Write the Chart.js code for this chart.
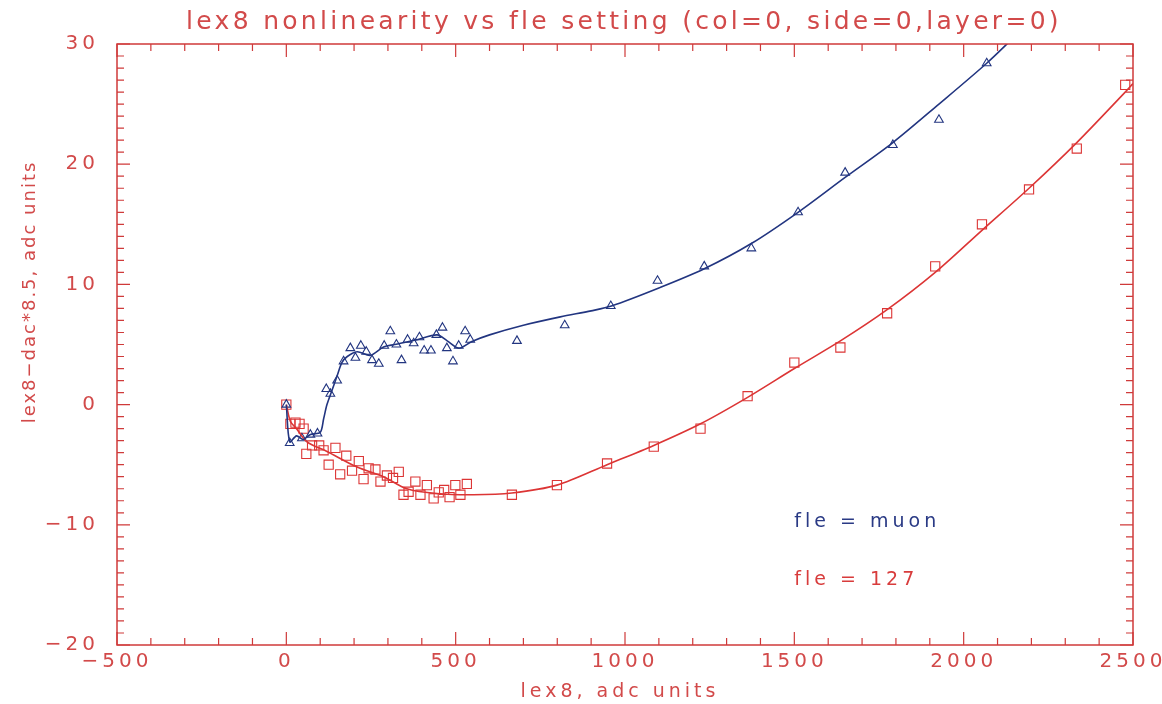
<!DOCTYPE html>
<html lang="en">
<head>
<meta charset="UTF-8">
<title>lex8 nonlinearity vs fle setting</title>
<script src="https://cdnjs.cloudflare.com/ajax/libs/Chart.js/4.4.1/chart.umd.min.js"></script>
<style>
    html, body { margin: 0; padding: 0; background: #fff; }
</style>
</head>
<body>
<canvas id="chart" width="1162" height="704"></canvas>
<script>
    // fle = muon (triangles)
    const muonX = [0, 10, 46, 71, 92, 118, 130, 150, 169, 189, 204, 220, 236, 253, 273, 289, 307, 325, 340,
        358, 376, 393, 407, 427, 443, 461, 474, 492, 509, 528, 543, 681, 822, 958, 1096, 1234, 1373, 1511,
        1650, 1791, 1927, 2068];
    const muonY = [0, -3.2, -2.8, -2.5, -2.4, 1.3, 0.9, 2.0, 3.6, 4.7, 3.9, 4.9, 4.4, 3.7, 3.4, 4.9, 6.1, 5.0, 3.7,
        5.4, 5.1, 5.6, 4.5, 4.5, 5.8, 6.4, 4.7, 3.6, 4.9, 6.1, 5.4, 5.3, 6.6, 8.2, 10.3, 11.5, 13.0, 16.0,
        19.3, 21.6, 23.7, 28.4];

    // fle = 127 (squares)
    const fleX = [0, 12, 27, 39, 51, 59, 76, 97, 110, 125, 145, 159, 177, 194, 214, 228, 243, 263, 278, 297,
        315, 332, 346, 361, 381, 396, 415, 435, 450, 466, 482, 499, 514, 533, 666, 799, 947, 1085, 1223, 1362,
        1500, 1636, 1774, 1916, 2054, 2193, 2334, 2477];
    const fleY = [0, -1.6, -1.5, -1.6, -2.0, -4.1, -3.4, -3.4, -3.8, -5.0, -3.6, -5.8, -4.25, -5.5, -4.7, -6.2,
        -5.3, -5.4, -6.4, -5.9, -6.1, -5.6, -7.5, -7.25, -6.4, -7.5, -6.7, -7.8, -7.3, -7.1, -7.7, -6.7, -7.5,
        -6.6, -7.5, -6.7, -4.9, -3.5, -2.0, 0.7, 3.5, 4.75, 7.6, 11.5, 15.0, 17.9, 21.3, 26.6];

    // fitted curves
    const muonFitX = [0, 10, 30, 50, 70, 100, 110, 120, 135, 150, 164, 180, 209, 248, 287, 320, 386, 445, 475,
        509, 548, 600, 700, 809, 900, 960, 1100, 1234, 1373, 1511, 1650, 1791, 1927, 2068, 2150];
    const muonFitY = [0, -3.1, -2.6, -2.9, -2.5, -2.3, -1.2, 0.0, 1.2, 2.4, 3.5, 4.0, 4.4, 4.1, 4.8, 5.0, 5.4,
        5.8, 5.3, 4.7, 5.25, 5.8, 6.6, 7.3, 7.8, 8.2, 9.7, 11.3, 13.4, 16.0, 18.9, 21.8, 25.0, 28.4, 30.6];
    const fleFitX = [0, 12, 30, 61, 120, 209, 287, 356, 445, 552, 666, 799, 947, 1085, 1223, 1362, 1500, 1636,
        1774, 1916, 2054, 2193, 2334, 2477, 2500];
    const fleFitY = [0, -1.4, -2.0, -3.1, -3.9, -5.2, -6.0, -7.0, -7.4, -7.5, -7.35, -6.7, -5.0, -3.4, -1.6, 0.6,
        3.0, 5.3, 7.9, 11.0, 14.5, 18.0, 21.8, 26.0, 26.7];

    const xRange = [-500, 2500];
    const yRange = [-20, 30];
    const xMajor = 500, xMinor = 100;
    const yMajor = 10, yMinor = 1;

    const titleText = 'lex8 nonlinearity vs fle setting (col=0, side=0,layer=0)';
    const xTitle = 'lex8, adc units';
    const yTitle = 'lex8\u2212dac*8.5, adc units';
    const labels = [
        { text: 'fle = muon', x: 1500, y: -9.75, color: '#2a3a85' },
        { text: 'fle = 127', x: 1500, y: -14.6, color: '#d83c3c' }
    ];

    const axisRed = '#cf3a3a';
    const textRed = '#d24a4a';
    const blue = '#223580';
    const red = '#dc3535';

    function pts(xs, ys) {
        return xs.map((x, i) => ({ x: x, y: ys[i] }));
    }
    function fmt(v) {
        return v < 0 ? '\u2212' + Math.abs(v) : String(v);
    }

    // IDL-like frame with inward ticks on all four sides
    const framePlugin = {
        id: 'frame',
        beforeDraw(chart) {
            chart.ctx.letterSpacing = '4px';
        },
        afterDatasetsDraw(chart) {
            const ctx = chart.ctx, a = chart.chartArea;
            const sx = chart.scales.x, sy = chart.scales.y;
            ctx.save();
            ctx.strokeStyle = axisRed;
            ctx.lineWidth = 1.5;
            ctx.strokeRect(a.left, a.top, a.right - a.left, a.bottom - a.top);
            ctx.lineWidth = 1.2;
            ctx.beginPath();
            for (let v = xRange[0]; v <= xRange[1]; v += xMinor) {
                const p = sx.getPixelForValue(v);
                const len = v % xMajor === 0 ? 13 : 7;
                ctx.moveTo(p, a.bottom); ctx.lineTo(p, a.bottom - len);
                ctx.moveTo(p, a.top); ctx.lineTo(p, a.top + len);
            }
            for (let v = yRange[0]; v <= yRange[1]; v += yMinor) {
                const p = sy.getPixelForValue(v);
                const len = v % yMajor === 0 ? 13 : 7;
                ctx.moveTo(a.left, p); ctx.lineTo(a.left + len, p);
                ctx.moveTo(a.right, p); ctx.lineTo(a.right - len, p);
            }
            ctx.stroke();
            ctx.restore();
        },
        afterDraw(chart) {
            const ctx = chart.ctx;
            const sx = chart.scales.x, sy = chart.scales.y;
            ctx.save();
            ctx.textBaseline = 'middle';

            ctx.fillStyle = textRed;
            ctx.textAlign = 'center';
            ctx.font = '25px "DejaVu Sans"';
            ctx.letterSpacing = '3.3px';
            ctx.fillText(titleText, 624, 22);

            ctx.font = '19px "DejaVu Sans"';
            ctx.letterSpacing = '4px';
            ctx.fillText(xTitle, 620, 692);

            ctx.save();
            ctx.translate(30, 292);
            ctx.rotate(-Math.PI / 2);
            ctx.font = '18px "DejaVu Sans"';
            ctx.letterSpacing = '2px';
            ctx.fillText(yTitle, 0, 0);
            ctx.restore();

            ctx.textAlign = 'left';
            ctx.font = '19px "DejaVu Sans"';
            ctx.letterSpacing = '4px';
            labels.forEach(l => {
                ctx.fillStyle = l.color;
                ctx.fillText(l.text, sx.getPixelForValue(l.x), sy.getPixelForValue(l.y));
            });
            ctx.restore();
        }
    };

    new Chart(document.getElementById('chart'), {
        type: 'scatter',
        data: {
            datasets: [
                {
                    label: 'fle = muon fit',
                    data: pts(muonFitX, muonFitY),
                    showLine: true,
                    borderColor: blue,
                    borderWidth: 1.6,
                    pointRadius: 0,
                    tension: 0.3
                },
                {
                    label: 'fle = 127 fit',
                    data: pts(fleFitX, fleFitY),
                    showLine: true,
                    borderColor: red,
                    borderWidth: 1.6,
                    pointRadius: 0,
                    tension: 0.3
                },
                {
                    label: 'fle = muon',
                    data: pts(muonX, muonY),
                    pointStyle: 'triangle',
                    pointRadius: 5,
                    borderColor: blue,
                    borderWidth: 1.1,
                    backgroundColor: 'rgba(0,0,0,0)'
                },
                {
                    label: 'fle = 127',
                    data: pts(fleX, fleY),
                    pointStyle: 'rect',
                    pointRadius: 6.5,
                    borderColor: red,
                    borderWidth: 1.1,
                    backgroundColor: 'rgba(0,0,0,0)'
                }
            ]
        },
        options: {
            responsive: false,
            animation: false,
            events: [],
            layout: { padding: { top: 44, right: 29, bottom: 0, left: 0 } },
            plugins: {
                legend: { display: false },
                tooltip: { enabled: false }
            },
            scales: {
                x: {
                    type: 'linear',
                    min: xRange[0],
                    max: xRange[1],
                    grid: { display: false, drawTicks: false },
                    border: { display: false },
                    ticks: {
                        stepSize: xMajor,
                        padding: 5,
                        maxRotation: 0,
                        color: textRed,
                        font: { family: 'DejaVu Sans', size: 20 },
                        callback: v => fmt(v)
                    },
                    afterFit(s) { s.height = 59; s.paddingLeft = 0; s.paddingRight = 0; }
                },
                y: {
                    type: 'linear',
                    min: yRange[0],
                    max: yRange[1],
                    grid: { display: false, drawTicks: false },
                    border: { display: false },
                    ticks: {
                        stepSize: yMajor,
                        padding: 18,
                        color: textRed,
                        font: { family: 'DejaVu Sans', size: 20 },
                        callback: v => fmt(v)
                    },
                    afterFit(s) { s.width = 117; s.paddingTop = 0; s.paddingBottom = 0; }
                }
            }
        },
        plugins: [framePlugin]
    });
</script>
</body>
</html>
